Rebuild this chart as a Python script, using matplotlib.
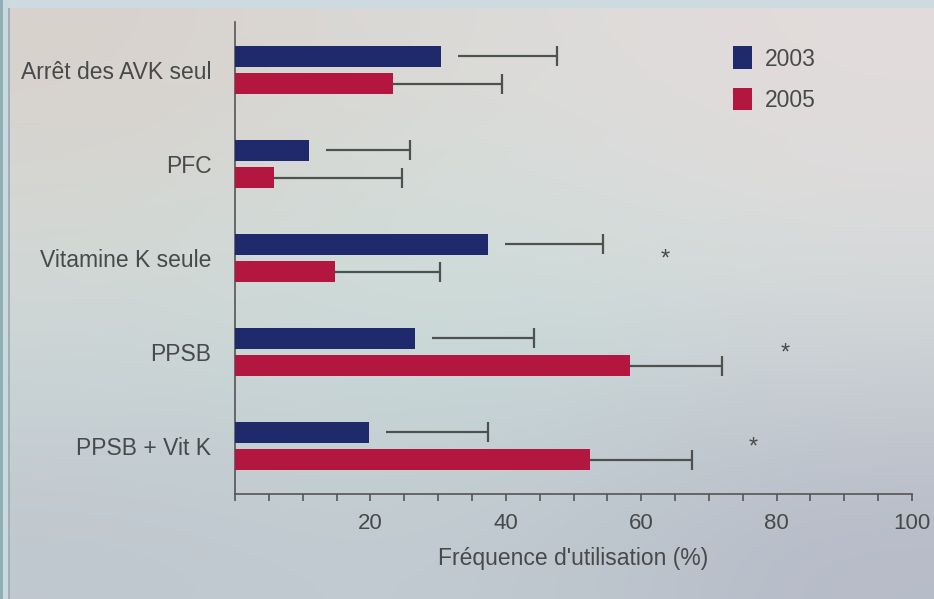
import matplotlib
matplotlib.use("Agg")
import matplotlib.pyplot as plt
import numpy as np
from matplotlib import font_manager

# ---- data ----
categories = ["Arrêt des AVK seul", "PFC", "Vitamine K seule", "PPSB", "PPSB + Vit K"]
years = ["2003", "2005"]
values_2003 = [30.5, 10.9, 37.4, 26.6, 19.8]
values_2005 = [23.4, 5.8, 14.8, 58.4, 52.5]
upper_2003 = [47.5, 25.9, 54.4, 44.2, 37.3]
upper_2005 = [39.5, 24.6, 30.3, 71.9, 67.5]
star_x = [None, None, 63.6, 81.2, 76.6]
xlabel = "Fréquence d'utilisation (%)"
xticks_major = [20, 40, 60, 80, 100]

# ---- style ----
names = {f.name for f in font_manager.fontManager.ttflist}
fam = "Liberation Sans Narrow" if "Liberation Sans Narrow" in names else "Liberation Sans"
plt.rcParams["font.family"] = [fam, "DejaVu Sans"]
navy = "#1f2a6c"
crimson = "#b3163f"
txt = "#474a4a"
errc = "#4d524f"

fig = plt.figure(figsize=(9.34, 5.99), dpi=100)

# background gradient (photo look)
bg = fig.add_axes([0, 0, 1, 1], zorder=-10)
grid = np.array([
    [[0.85, 0.82, 0.80], [0.86, 0.86, 0.85], [0.89, 0.86, 0.86]],
    [[0.82, 0.86, 0.85], [0.79, 0.88, 0.86], [0.84, 0.86, 0.86]],
    [[0.75, 0.78, 0.81], [0.76, 0.80, 0.82], [0.71, 0.73, 0.78]],
])
bg.imshow(grid, aspect="auto", interpolation="bicubic", extent=[0, 1, 0, 1])
bg.add_patch(plt.Rectangle((0, 1 - 8 / 599), 1, 8 / 599, color="#cddbe1", lw=0))
bg.add_patch(plt.Rectangle((0, 0), 9 / 934, 1, color="#c9d9de", lw=0))
bg.add_patch(plt.Rectangle((0, 0), 3 / 934, 1, color="#8fb0b6", lw=0))
bg.add_patch(plt.Rectangle((8 / 934, 0), 1.5 / 934, 1 - 8 / 599, color="#9fb0b8", lw=0))
bg.set_xlim(0, 1); bg.set_ylim(0, 1)
bg.axis("off")

ax = fig.add_axes([235 / 934, 105 / 599, 677 / 934, 472 / 599])
ax.patch.set_alpha(0)

y = np.arange(len(categories))
off = 0.145
h = 0.22
ax.barh(y - off, values_2003, height=h, color=navy, label=years[0], zorder=3)
ax.barh(y + off, values_2005, height=h, color=crimson, label=years[1], zorder=3)

gap = 2.5
cap_pt = 14.4
for i in range(len(categories)):
    ax.hlines(y[i] - off, values_2003[i] + gap, upper_2003[i], color=errc, lw=1.6, zorder=2)
    ax.plot([upper_2003[i]], [y[i] - off], marker="|", ms=cap_pt, mew=1.6, color=errc, zorder=2)
    ax.hlines(y[i] + off, values_2005[i], upper_2005[i], color=errc, lw=1.6, zorder=2)
    ax.plot([upper_2005[i]], [y[i] + off], marker="|", ms=cap_pt, mew=1.6, color=errc, zorder=2)
    if star_x[i] is not None:
        ax.text(star_x[i], y[i] + 0.02, "*", ha="center", va="center", fontsize=17, color=txt)

ax.set_xlim(0, 100)
ax.set_ylim(len(categories) - 0.49, -0.51)
ax.set_yticks(y)
ax.set_yticklabels(categories, fontsize=16.5, color=txt)
ax.tick_params(axis="y", length=0, pad=17)
ax.set_xticks(xticks_major)
ax.set_xticks(np.arange(0, 101, 5), minor=True)
ax.tick_params(axis="x", which="both", direction="out", length=5, width=1.2, color="#555555",
               labelsize=16, labelcolor=txt, pad=9)
ax.set_xlabel(xlabel, fontsize=16.5, color=txt, labelpad=9)
for s in ["top", "right"]:
    ax.spines[s].set_visible(False)
for s in ["left", "bottom"]:
    ax.spines[s].set_color("#555555")
    ax.spines[s].set_linewidth(1.2)

leg = ax.legend(loc="upper left", bbox_to_anchor=(0.705, 0.992), frameon=False, fontsize=16.5,
                handlelength=0.85, handleheight=1.15, labelspacing=0.75, handletextpad=0.55)
for t in leg.get_texts():
    t.set_color(txt)

fig.savefig("out.png", dpi=100)
